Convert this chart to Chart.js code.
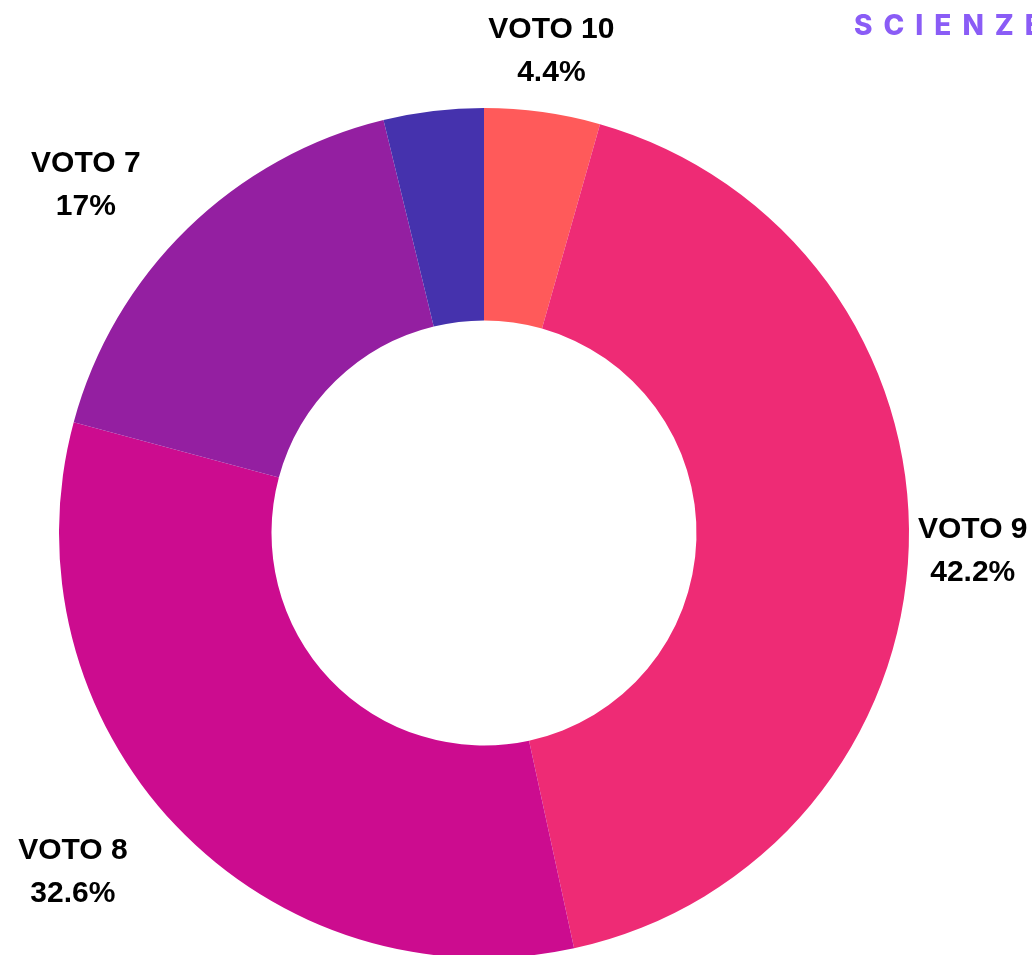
<!DOCTYPE html>
<html>
<head>
<meta charset="utf-8">
<script src="https://cdn.jsdelivr.net/npm/chart.js@4.4.0/dist/chart.umd.min.js"></script>
<style>
  html, body { margin: 0; padding: 0; background: #fff; overflow: hidden; }
  #wrap { position: relative; width: 1032px; height: 955px; }
  #brand {
    position: absolute; left: 854px; top: 8px;
    font-family: Inter, "DejaVu Sans", sans-serif; font-weight: 800;
    font-size: 28px; letter-spacing: 11px; color: #8A5CF6;
    white-space: nowrap;
  }
</style>
</head>
<body>
<div id="wrap">
  <canvas id="chart" width="1032" height="955"></canvas>
  <div id="brand">SCIENZE</div>
</div>
<script>
var labels = ['VOTO 10', 'VOTO 9', 'VOTO 8', 'VOTO 7', ''];
var values = [4.4, 42.2, 32.6, 17, 3.8];
var colors = ['#FF5A5A', '#EE2B75', '#CC0C8F', '#941FA1', '#4532AD'];

// etichette fuori dalla ciambella
var outerLabels = {
    id: 'outerLabels',
    afterDatasetsDraw: function (chart) {
        var ctx = chart.ctx;
        var meta = chart.getDatasetMeta(0);
        ctx.save();
        ctx.font = 'bold 30px "Liberation Sans", Arial, sans-serif';
        ctx.fillStyle = '#000';
        ctx.textAlign = 'center';
        ctx.textBaseline = 'middle';
        meta.data.forEach(function (arc, i) {
            if (!labels[i]) return;
            var mid = (arc.startAngle + arc.endAngle) / 2;
            var r = arc.outerRadius + 64;
            var x = arc.x + Math.cos(mid) * r;
            var y = arc.y + Math.sin(mid) * r;
            var line2 = values[i] + '%';
            var w = Math.max(ctx.measureText(labels[i]).width, ctx.measureText(line2).width);
            if (Math.cos(mid) < -0.1) x -= w / 2 + 2;
            ctx.fillText(labels[i], x, y - 19);
            ctx.fillText(line2, x, y + 24);
        });
        ctx.restore();
    }
};

var ctx = document.getElementById('chart').getContext('2d');
var myChart = new Chart(ctx, {
    type: 'doughnut',
    data: {
        labels: labels,
        datasets: [{
            data: values,
            backgroundColor: colors,
            borderWidth: 0,
            clip: false
        }]
    },
    options: {
        responsive: false,
        animation: false,
        radius: 425,
        cutout: '50%',
        layout: {
            padding: { left: 0, right: 64, top: 111, bottom: 0 }
        },
        plugins: {
            legend: { display: false },
            tooltip: { enabled: false }
        }
    },
    plugins: [outerLabels]
});
</script>
</body>
</html>
